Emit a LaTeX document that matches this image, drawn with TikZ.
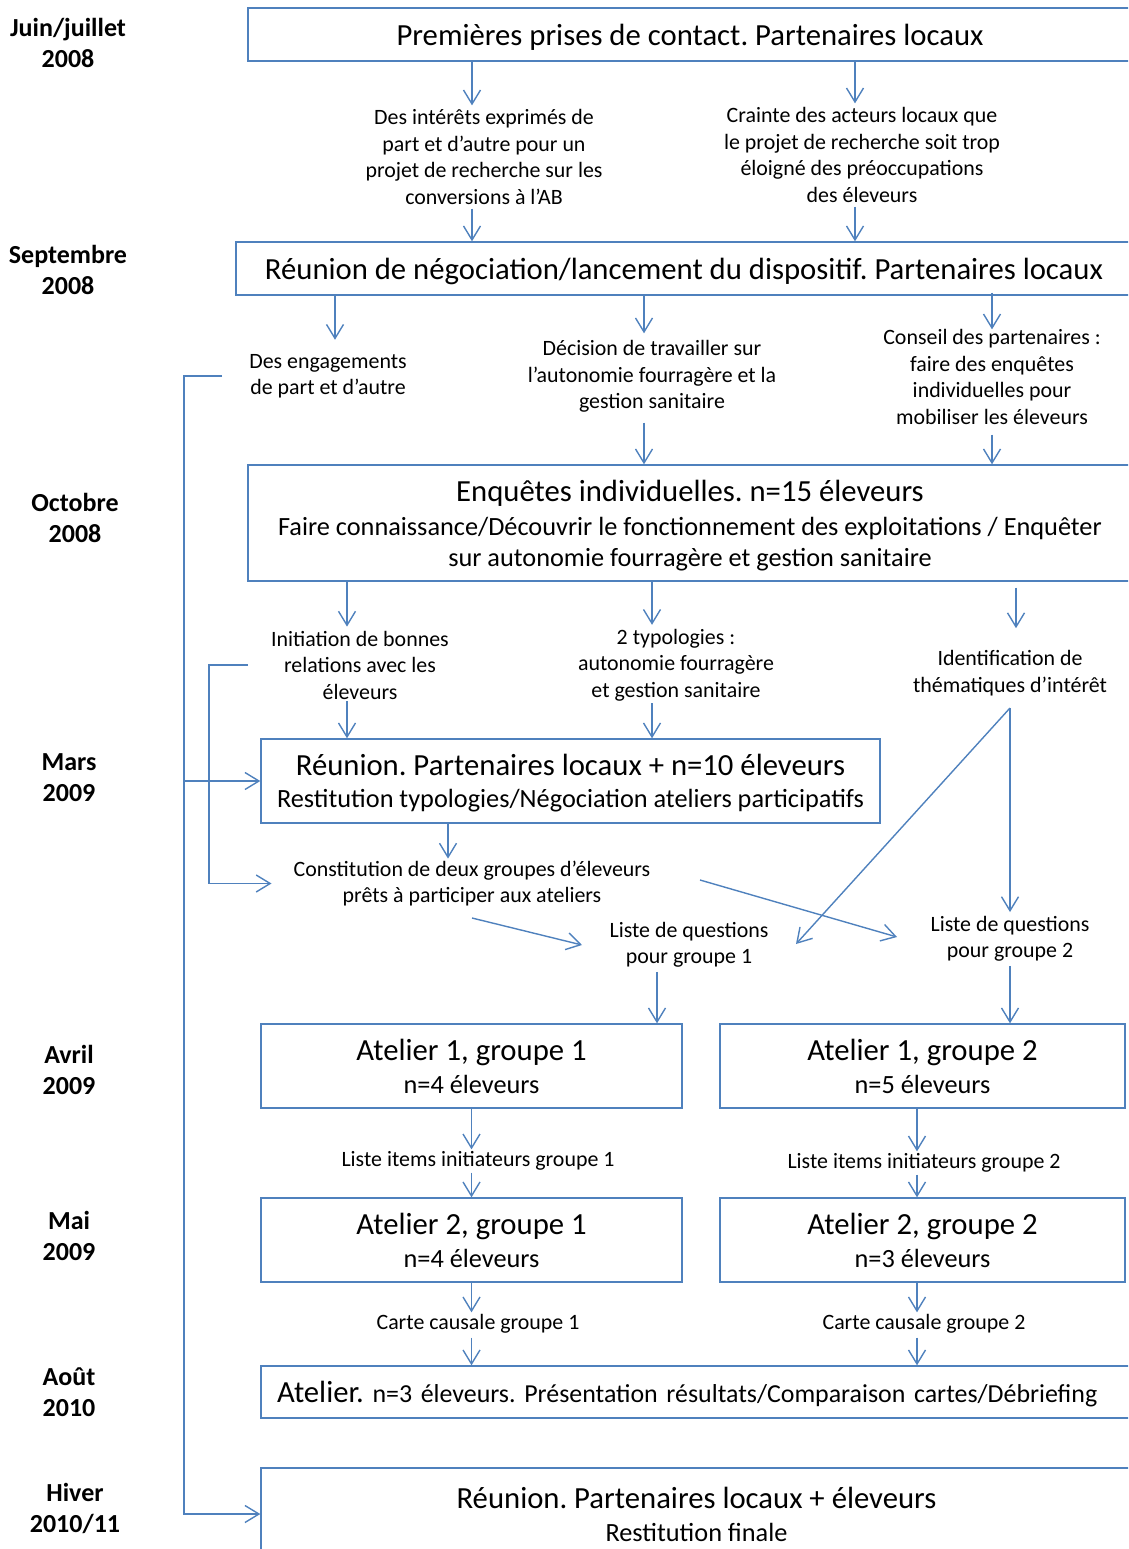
\documentclass[tikz,border=0pt]{standalone}
\usepackage{fontspec}
\setmainfont{Carlito}
\usetikzlibrary{arrows.meta}
\definecolor{linecol}{RGB}{79,129,189}
\newcommand\boxtitle{\fontsize{30.7}{36}\selectfont}
\newcommand\boxsub{\fontsize{26.3}{31}\selectfont}
\newcommand\notefont{\fontsize{21.9}{26.5}\selectfont}
\newcommand\datefont{\fontsize{26}{31}\selectfont\bfseries}
\frenchspacing

\begin{document}
\begin{tikzpicture}[x=1pt,y=-1pt,
    box/.style={draw=linecol, line width=1.4pt, align=center, inner sep=0pt, text depth=0pt, font=\boxsub},
    note/.style={align=center, inner sep=0pt, font=\notefont},
    date/.style={align=center, inner sep=0pt, font=\datefont},
    arr/.style={draw=linecol, line width=1.4pt, -{Straight Barb[length=14pt,width=17pt]}}]
    \useasboundingbox (0,0) rectangle (1128,1549);
    \clip (0,0) rectangle (1128,1549);

    \node[date] (d1) at (68,42.5) {Juin/juillet\\2008};
    \node[date] (d2) at (68,269.5) {Septembre\\2008};
    \node[date] (d3) at (75,518) {Octobre\\2008};
    \node[date] (d4) at (69,778) {Mars\\2009};
    \node[date] (d5) at (69,1070) {Avril\\2009};
    \node[date] (d6) at (69,1236) {Mai\\2009};
    \node[date] (d7) at (69,1392) {Août\\2010};
    \node[date] (d8) at (75,1508.5) {Hiver\\2010/11};

    \node[box, minimum width=884pt, minimum height=53pt] (contact) at (690,34.5) {\boxtitle Premières prises de contact. Partenaires locaux};
    \node[box, minimum width=896pt, minimum height=53pt] (lancement) at (684,268.5) {\boxtitle Réunion de négociation/lancement du dispositif. Partenaires locaux};
    \node[box, minimum width=884pt, minimum height=116pt] (enquetes) at (690,523) {{\boxtitle Enquêtes individuelles. n=15 éleveurs}\\[3pt]
        Faire connaissance/Découvrir le fonctionnement des exploitations / Enquêter\\sur autonomie fourragère et gestion sanitaire};
    \node[box, minimum width=619pt, minimum height=84pt, text depth=-4pt] (reunion) at (570.5,781) {{\boxtitle Réunion. Partenaires locaux + n=10 éleveurs}\\[1pt]
        Restitution typologies/Négociation ateliers participatifs};
    \node[box, minimum width=421pt, minimum height=84pt] (at11) at (471.5,1066) {{\boxtitle Atelier 1, groupe 1}\\[2pt]n=4 éleveurs};
    \node[box, minimum width=405pt, minimum height=84pt] (at12) at (922.5,1066) {{\boxtitle Atelier 1, groupe 2}\\[2pt]n=5 éleveurs};
    \node[box, minimum width=421pt, minimum height=84pt] (at21) at (471.5,1240) {{\boxtitle Atelier 2, groupe 1}\\[2pt]n=4 éleveurs};
    \node[box, minimum width=405pt, minimum height=84pt] (at22) at (922.5,1240) {{\boxtitle Atelier 2, groupe 2}\\[2pt]n=3 éleveurs};
    \node[box, align=left, text width=839pt, inner xsep=16pt, minimum height=52pt, font=\fontsize{25.9}{31}\selectfont] (bilan) at (696.5,1392) {{\boxtitle Atelier.} n=3 éleveurs. Présentation résultats/Comparaison cartes/Débriefing};
    \node[box, minimum width=871pt, minimum height=92pt] (restit) at (696.5,1514) {{\boxtitle Réunion. Partenaires locaux + éleveurs}\\[2pt]Restitution finale};

    \node[note] (interets) at (484,157) {Des intérêts exprimés de\\part et d’autre pour un\\projet de recherche sur les\\conversions à l’AB};
    \node[note] (crainte) at (862,155) {Crainte des acteurs locaux que\\le projet de recherche soit trop\\éloigné des préoccupations\\des éleveurs};
    \node[note] (engag) at (328,376) {Des engagements\\de part et d’autre};
    \node[note] (decision) at (652,376.5) {Décision de travailler sur\\l’autonomie fourragère et la\\gestion sanitaire};
    \node[note] (conseil) at (992,377) {Conseil des partenaires :\\faire des enquêtes\\individuelles pour\\mobiliser les éleveurs};
    \node[note] (initiation) at (360,665) {Initiation de bonnes\\relations avec les\\éleveurs};
    \node[note] (typo) at (676,665) {2 typologies :\\autonomie fourragère\\et gestion sanitaire};
    \node[note] (themes) at (1010,673) {Identification de\\thématiques d’intérêt};
    \node[note] (groupes) at (472,883.5) {Constitution de deux groupes d’éleveurs\\prêts à participer aux ateliers};
    \node[note] (quest1) at (689,945) {Liste de questions\\pour groupe 1};
    \node[note] (quest2) at (1010,939) {Liste de questions\\pour groupe 2};
    \node[note] (items1) at (478,1161) {Liste items initiateurs groupe 1};
    \node[note] (items2) at (924,1163) {Liste items initiateurs groupe 2};
    \node[note] (carte1) at (478,1324) {Carte causale groupe 1};
    \node[note] (carte2) at (924,1324) {Carte causale groupe 2};

    \foreach \n/\x in {c1/472,c2/855,c3/335,c4/644,c5/992,c6/347,c7/652,c8/1016,c9/448,c10/657,c11/1010,c12/917,k1/184,k2/209}
        \coordinate (\n) at (\x,0);
    \coordinate (e1) at (222,376);
    \coordinate (e2) at (248,665);
    \coordinate (g1) at (472,918);
    \coordinate (q1) at (582,945);
    \coordinate (g2) at (700,880);
    \coordinate (q2) at (897,937);
    \coordinate (fork) at (1010,708);
    \coordinate (q3) at (796,944);

    \draw[arr] (contact.south -| c1) -- ([yshift=4pt]interets.north -| c1);
    \draw[arr] ([yshift=-4pt]interets.south -| c1) -- (lancement.north -| c1);
    \draw[arr] (contact.south -| c2) -- ([yshift=4pt]crainte.north -| c2);
    \draw[arr] ([yshift=-4pt]crainte.south -| c2) -- (lancement.north -| c2);

    \draw[arr] (lancement.south -| c3) -- ([yshift=14pt]engag.north -| c3);
    \draw[arr] (lancement.south -| c4) -- ([yshift=7pt]decision.north -| c4);
    \draw[arr] ([yshift=3pt]lancement.south -| c5) -- (conseil.north -| c5);
    \draw[arr] ([yshift=-10pt]decision.south -| c4) -- (enquetes.north -| c4);
    \draw[arr] ([yshift=-10pt]conseil.south -| c5) -- (enquetes.north -| c5);

    \draw[arr] (enquetes.south -| c6) -- ([yshift=4pt]initiation.north -| c6);
    \draw[arr] (enquetes.south -| c7) -- ([yshift=4pt]typo.north -| c7);
    \draw[arr] ([yshift=-6pt]enquetes.south -| c8) -- ([yshift=22pt]themes.north -| c8);
    \draw[arr] ([yshift=-2pt]initiation.south -| c6) -- (reunion.north -| c6);
    \draw[arr] ([yshift=-2pt]typo.south -| c7) -- (reunion.north -| c7);

    \draw[arr] (reunion.south -| c9) -- ([yshift=2pt]groupes.north -| c9);
    \draw[arr] (g1) -- (q1);
    \draw[arr] (g2) -- (q2);
    \draw[arr] (fork) -- (q3);
    \draw[arr] (fork) -- ([yshift=4pt]quest2.north -| c11);
    \draw[arr] ([yshift=-4pt]quest1.south -| c10) -- (at11.north -| c10);
    \draw[arr] ([yshift=-4pt]quest2.south -| c11) -- (at12.north -| c11);

    \draw[arr] (at11.south) -- ([yshift=2pt]items1.north -| at11);
    \draw[arr] ([yshift=-2pt]items1.south -| at11) -- (at21.north);
    \draw[arr] (at12.south -| c12) -- ([yshift=2pt]items2.north -| c12);
    \draw[arr] ([yshift=-2pt]items2.south -| c12) -- (at22.north -| c12);
    \draw[arr] (at21.south) -- ([yshift=2pt]carte1.north -| at21);
    \draw[arr] ([yshift=-4pt]carte1.south -| at21) -- (bilan.north -| at21);
    \draw[arr] (at22.south -| c12) -- ([yshift=2pt]carte2.north -| c12);
    \draw[arr] ([yshift=-4pt]carte2.south -| c12) -- (bilan.north -| c12);

    \draw[arr] (e1) -- (e1 -| k1) |- (restit.west);
    \draw[arr] (k1 |- reunion.west) -- (reunion.west);
    \draw[arr] (e2) -- (e2 -| k2) |- ([xshift=-22pt]groupes.west);
\end{tikzpicture}
\end{document}
